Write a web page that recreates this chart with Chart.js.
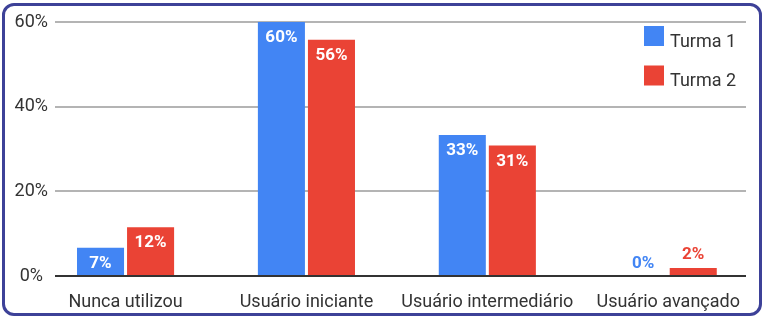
<!DOCTYPE html>
<html>
<head>
<meta charset="utf-8">
<script src="https://cdn.jsdelivr.net/npm/chart.js@4"></script>
<style>
  html, body { margin: 0; padding: 0; background: #fff; }
  #wrap { position: relative; width: 765px; height: 323px; }
  #chart { position: absolute; left: 0; top: 0; }
  #frame {
    position: absolute; left: 2px; top: 3px; width: 760px; height: 313px;
    box-sizing: border-box; border: 3px solid #3d4198; border-radius: 12px;
    pointer-events: none;
  }
</style>
</head>
<body>
<div id="wrap">
  <canvas id="chart" width="765" height="323"></canvas>
  <div id="frame"></div>
</div>
<script>
// data
const categories = ["Nunca utilizou", "Usuário iniciante", "Usuário intermediário", "Usuário avançado"];
const seriesNames = ["Turma 1", "Turma 2"];
const turma1 = [6.7, 60, 33.3, 0];
const turma2 = [11.5, 55.8, 30.8, 1.9];
const yTicks = [0, 20, 40, 60];

const colors = ["#4285f4", "#ea4335"];
const FONT = "Roboto, 'Liberation Sans', Arial, sans-serif";

Chart.defaults.font.family = FONT;
Chart.defaults.color = "#333";

const toPoints = (arr) => arr.map((v, i) => ({ x: i, y: v }));

// value labels: white inside the bar, coloured above it when the bar is too short
const valueLabels = {
  id: "valueLabels",
  afterDatasetsDraw(chart){
    const ctx = chart.ctx;
    ctx.save();
    ctx.font = "bold 17px " + FONT;
    ctx.textAlign = "center";
    ctx.textBaseline = "alphabetic";
    chart.data.datasets.forEach((ds, di) => {
      const meta = chart.getDatasetMeta(di);
      meta.data.forEach((bar, i) => {
        const v = ds.data[i].y;
        const txt = Math.round(v) + "%";
        const h = bar.base - bar.y;
        if (h > 26){
          ctx.fillStyle = "#fff";
          ctx.fillText(txt, bar.x, bar.y + 20);
        } else {
          ctx.fillStyle = ds.backgroundColor;
          ctx.fillText(txt, bar.x, bar.y - 8.5);
        }
      });
    });
    ctx.restore();
  }
};

// legend drawn inside the top-right corner of the plot
const cornerLegend = {
  id: "cornerLegend",
  afterDraw(chart){
    const ctx = chart.ctx;
    const a = chart.chartArea;
    ctx.save();
    ctx.font = "18px " + FONT;
    ctx.textAlign = "left";
    ctx.textBaseline = "alphabetic";
    chart.data.datasets.forEach((ds, i) => {
      const x = a.right - 102;
      const y = a.top + 4 + i * 39.5;
      ctx.fillStyle = ds.backgroundColor;
      ctx.fillRect(x, y, 20, 20);
      ctx.fillStyle = "#333";
      ctx.fillText(ds.label, x + 26, y + 20.5);
    });
    ctx.restore();
  }
};

new Chart(document.getElementById("chart"), {
  type: "bar",
  data: {
    datasets: [
      { label: seriesNames[0], data: toPoints(turma1), backgroundColor: colors[0] },
      { label: seriesNames[1], data: toPoints(turma2), backgroundColor: colors[1] }
    ]
  },
  options: {
    responsive: false,
    animation: false,
    devicePixelRatio: 1,
    categoryPercentage: 0.5534,
    barPercentage: 0.94,
    layout: { padding: { top: 22, right: 19, bottom: 0, left: 0 } },
    plugins: { legend: { display: false }, tooltip: { enabled: false } },
    scales: {
      x: {
        type: "linear",
        offset: false,
        min: -0.39,
        max: 3.43,
        grid: { display: false, offset: false },
        border: { display: false },
        afterBuildTicks: (scale) => { scale.ticks = categories.map((_, i) => ({ value: i })); },
        afterFit: (scale) => { scale.height = 47; },
        ticks: {
          autoSkip: false,
          maxRotation: 0,
          padding: 8,
          font: { size: 18 },
          color: "#333",
          callback: (v) => categories[v]
        }
      },
      y: {
        min: 0,
        max: 60,
        border: { display: false },
        afterBuildTicks: (scale) => { scale.ticks = yTicks.map(v => ({ value: v })); },
        afterFit: (scale) => { scale.width = 55; },
        grid: {
          drawTicks: false,
          lineWidth: 2,
          color: (c) => c.tick && c.tick.value === 0 ? "#333" : "#b4b4b4"
        },
        ticks: {
          padding: 7,
          crossAlign: "center",
          font: { size: 18 },
          color: "#333",
          callback: (v) => v + "%"
        }
      }
    }
  },
  plugins: [valueLabels, cornerLegend]
});
</script>
</body>
</html>
